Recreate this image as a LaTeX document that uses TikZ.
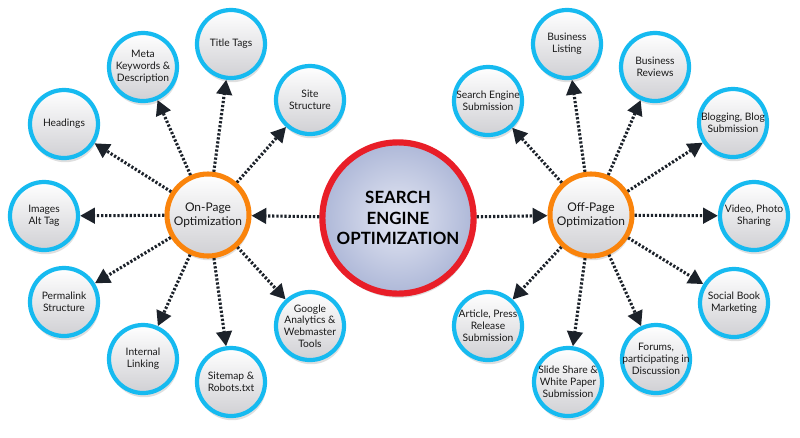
\documentclass[tikz,border=0pt]{standalone}
\usepackage{fontspec}
\setmainfont{Lato}
\usetikzlibrary{arrows.meta,shadows}
\definecolor{satblue}{RGB}{22,186,240}
\definecolor{hubor}{RGB}{250,132,12}
\definecolor{cred}{RGB}{232,30,40}
\definecolor{arr}{RGB}{28,34,42}
\definecolor{txt}{RGB}{25,25,25}
\definecolor{cin}{RGB}{228,231,243}
\definecolor{cout}{RGB}{174,184,216}
\definecolor{satlow}{RGB}{208,208,212}
\begin{document}
\begin{tikzpicture}[x=0.025cm,y=-0.025cm,
 sh/.style={drop shadow={shadow xshift=0.8pt, shadow yshift=-3pt, opacity=0.25}},
 sat/.style={circle, minimum size=1.7cm, inner sep=0pt, draw=satblue, line width=3pt, top color=white, bottom color=satlow, sh},
 satlbl/.style={font=\fontsize{7.3}{8.4}\selectfont, text=txt, align=center, inner sep=0pt},
 hub/.style={circle, minimum size=2.05cm, inner sep=0pt, draw=hubor, line width=3.6pt, top color=white, bottom color=satlow, sh, font=\fontsize{8.5}{10.4}\selectfont, text=txt, align=center},
 core/.style={circle, minimum size=3.78cm, inner sep=0pt, draw=cred, line width=4.4pt, inner color=cin, outer color=cout, sh, font=\bfseries\fontsize{12}{14.5}\selectfont, align=center, text=black},
 conn/.style={draw=arr, line width=2.2pt, dash pattern=on 1.6pt off 1.3pt, -{Triangle[length=10.5pt,width=11pt]}}
]
\fill[white] (0,0) rectangle (800,437);
\useasboundingbox (0,0) rectangle (800,437);

\node[core] (core) at (398,218) {SEARCH\\ENGINE\\OPTIMIZATION};
\node[hub] (onhub) at (208,215) {On-Page\\Optimization};
\node[hub] (offhub) at (591,215) {Off-Page\\Optimization};

% on-page satellites
\node[sat, label={[satlbl]center:Title Tags}] (tt) at (231,44) {};
\node[sat, label={[satlbl]center:Meta\\Keywords \&\\Description}] (meta) at (143,67) {};
\node[sat, label={[satlbl]center:Site\\Structure}] (site) at (310,100) {};
\node[sat, label={[satlbl]center:Headings}] (head) at (64,124) {};
\node[sat, label={[satlbl]center:Images\\Alt Tag}] (img) at (44,216) {};
\node[sat, label={[satlbl]center:Permalink\\Structure}] (perm) at (64,302) {};
\node[sat, label={[satlbl]center:Internal\\Linking}] (intl) at (143,359) {};
\node[sat, label={[satlbl]center:Sitemap \&\\Robots.txt}] (smap) at (231,382) {};
\node[sat, label={[satlbl]center:Google\\Analytics \&\\Webmaster\\Tools}] (ga) at (310,326) {};

% off-page satellites
\node[sat, label={[satlbl]center:Business\\Listing}] (bl) at (567,44) {};
\node[sat, label={[satlbl]center:Business\\Reviews}] (br) at (655,67) {};
\node[sat, label={[satlbl]center:Search Engine\\Submission}] (ses) at (488,101) {};
\node[sat, label={[satlbl]center:Blogging, Blog\\Submission}] (blog) at (733,123) {};
\node[sat, label={[satlbl]center:Video, Photo\\Sharing}] (vid) at (754,216) {};
\node[sat, label={[satlbl]center:Social Book\\Marketing}] (sbm) at (734,303) {};
\node[sat, label={[satlbl]center:Article, Press\\Release\\Submission}] (art) at (488,326) {};
\node[sat, label={[satlbl]center:Slide Share \&\\White Paper\\Submission}] (slide) at (568,382) {};
\node[sat, label={[satlbl]center:Forums,\\participating in\\Discussion}] (forum) at (656,359) {};

% connectors
\draw[conn] (core) -- (onhub);
\draw[conn] (core) -- (offhub);
\foreach \t in {tt,meta,site,head,img,perm,intl,smap,ga}
  \draw[conn] (onhub) -- (\t);
\foreach \t in {bl,br,ses,blog,vid,sbm,art,slide,forum}
  \draw[conn] (offhub) -- (\t);
\end{tikzpicture}
\end{document}
